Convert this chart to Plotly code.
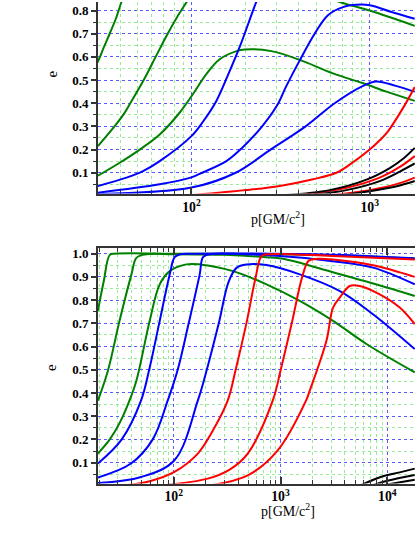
import plotly.graph_objects as go

# ---- top panel (p roughly 30 .. 1800) ----
top_green_1_p = [28.5, 30.3, 32.2, 34.8, 37.9, 40.5, 43.5]
top_green_1_e = [0.55, 0.59, 0.64, 0.70, 0.77, 0.837, 0.90]
top_green_2_p = [29.9, 37.9, 41.9, 45.4, 54.0, 63.0, 73.6, 87.6, 100, 140, 250, 450, 679, 1000, 1789]
top_green_2_e = [0.215, 0.31, 0.355, 0.40, 0.50, 0.60, 0.70, 0.80, 0.86, 0.92, 0.93, 0.89, 0.837, 0.80, 0.734]
top_green_3_p = [29.9, 39.6, 51.3, 66.4, 86.0, 102, 121, 144, 179, 199, 281, 405, 622, 918, 1242, 1789]
top_green_3_e = [0.087, 0.143, 0.20, 0.265, 0.36, 0.44, 0.525, 0.59, 0.625, 0.632, 0.625, 0.587, 0.529, 0.486, 0.45, 0.41]

top_blue_1_p = [29.9, 43.2, 53.5, 66.4, 100, 116, 138, 160, 187, 231, 260]
top_blue_1_e = [0.043, 0.079, 0.107, 0.15, 0.258, 0.32, 0.41, 0.52, 0.645, 0.837, 0.93]
top_blue_2_p = [29.9, 66.4, 100, 111, 157, 191, 246, 302, 341, 405, 491, 583, 708, 842, 1000, 1324, 1789]
top_blue_2_e = [0.014, 0.05, 0.08, 0.095, 0.15, 0.205, 0.295, 0.39, 0.475, 0.585, 0.70, 0.78, 0.815, 0.825, 0.823, 0.794, 0.765]
top_blue_3_p = [29.9, 100, 177, 278, 437, 636, 918, 1090, 1400, 1789]
top_blue_3_e = [0.008, 0.036, 0.10, 0.20, 0.30, 0.40, 0.475, 0.494, 0.475, 0.45]

top_red_1_p = [100, 203, 313, 481, 650, 772, 1000, 1138, 1266, 1539, 1789]
top_red_1_e = [0.003, 0.025, 0.043, 0.072, 0.10, 0.135, 0.20, 0.24, 0.279, 0.38, 0.47]
top_red_2_p = [405, 740, 1138, 1475, 1789]
top_red_2_e = [0.003, 0.035, 0.079, 0.125, 0.172]
top_red_3_p = [596, 1000, 1475, 1789]
top_red_3_e = [0.003, 0.025, 0.055, 0.079]

top_black_1_p = [325, 596, 959, 1296, 1539, 1789]
top_black_1_e = [0.003, 0.025, 0.07, 0.12, 0.16, 0.207]
top_black_2_p = [461, 740, 1138, 1475, 1789]
top_black_2_e = [0.003, 0.025, 0.064, 0.105, 0.14]
top_black_3_p = [679, 1000, 1475, 1789]
top_black_3_e = [0.003, 0.02, 0.045, 0.064]

# ---- bottom panel (p roughly 20 .. 18000) ----
bot_green_1_p = [19.5, 22.1, 25.2, 28.0, 100, 1000, 5000, 18050]
bot_green_1_e = [0.754, 0.88, 0.995, 1.0, 1.0, 0.998, 0.99, 0.978]
bot_green_2_p = [19.5, 24.2, 31.1, 40.2, 44.7, 53.5, 100, 300, 738, 1055, 3101, 6371, 18050]
bot_green_2_e = [0.367, 0.496, 0.711, 0.911, 0.982, 0.997, 0.998, 0.995, 0.985, 0.978, 0.92, 0.88, 0.818]
bot_green_3_p = [19.5, 25.2, 31.1, 38.5, 44.7, 59.6, 73.9, 91.7, 131, 175, 359, 738, 1513, 3101, 6371, 18050]
bot_green_3_e = [0.139, 0.20, 0.27, 0.367, 0.453, 0.711, 0.868, 0.925, 0.954, 0.954, 0.925, 0.868, 0.797, 0.711, 0.611, 0.489]

bot_blue_1_p = [19.5, 32.6, 49.4, 58.9, 73.1, 91.7, 102, 115, 150, 3000, 18050]
bot_blue_1_e = [0.096, 0.2, 0.367, 0.5, 0.7, 0.91, 0.985, 0.998, 1.0, 0.995, 0.98]
bot_blue_2_p = [19.5, 39.8, 63.6, 87.8, 109, 138, 175, 188, 217, 983, 3101, 7343, 18050]
bot_blue_2_e = [0.036, 0.096, 0.2, 0.367, 0.5, 0.7, 0.91, 0.985, 0.998, 0.99, 0.968, 0.94, 0.868]
bot_blue_3_p = [19.5, 49.4, 101.5, 168, 204, 264, 327, 389, 482, 738, 1513, 3596, 7343, 18050]
bot_blue_3_e = [0.012, 0.038, 0.11, 0.367, 0.5, 0.7, 0.88, 0.94, 0.954, 0.951, 0.911, 0.839, 0.739, 0.589]

bot_red_1_p = [35.7, 59.6, 101.5, 168, 227, 320, 380, 479, 586, 666, 792, 3101, 18050]
bot_red_1_e = [0.003, 0.02, 0.06, 0.139, 0.23, 0.367, 0.5, 0.7, 0.9, 0.99, 0.998, 0.99, 0.975]
bot_red_2_p = [81.8, 208, 334, 493, 845, 1004, 1273, 1596, 1836, 2230, 3101, 7343, 18050]
bot_red_2_e = [0.003, 0.031, 0.07, 0.139, 0.367, 0.5, 0.7, 0.9, 0.97, 0.978, 0.975, 0.95, 0.9]
bot_red_3_p = [208, 493, 941, 1732, 1877, 2691, 3101, 3582, 4445, 5512, 8484, 13060, 18050]
bot_red_3_e = [0.0, 0.045, 0.153, 0.367, 0.41, 0.625, 0.768, 0.811, 0.861, 0.861, 0.825, 0.768, 0.697]

bot_black_1_p = [5500, 8300, 13060, 18050]
bot_black_1_e = [0.0, 0.035, 0.058, 0.074]
bot_black_2_p = [7000, 10000, 18050]
bot_black_2_e = [0.0, 0.022, 0.047]
bot_black_3_p = [8500, 12000, 18050]
bot_black_3_e = [0.0, 0.012, 0.026]

GREEN, BLUE, RED, BLACK = "#008000", "#0000ff", "#ff0000", "#000000"
FONT = "Liberation Serif, Times New Roman, serif"

top_curves = [
    (top_green_1_p, top_green_1_e, GREEN), (top_green_2_p, top_green_2_e, GREEN),
    (top_green_3_p, top_green_3_e, GREEN), (top_blue_1_p, top_blue_1_e, BLUE),
    (top_blue_2_p, top_blue_2_e, BLUE), (top_blue_3_p, top_blue_3_e, BLUE),
    (top_red_1_p, top_red_1_e, RED), (top_red_2_p, top_red_2_e, RED),
    (top_red_3_p, top_red_3_e, RED), (top_black_1_p, top_black_1_e, BLACK),
    (top_black_2_p, top_black_2_e, BLACK), (top_black_3_p, top_black_3_e, BLACK),
]
bot_curves = [
    (bot_green_1_p, bot_green_1_e, GREEN), (bot_green_2_p, bot_green_2_e, GREEN),
    (bot_green_3_p, bot_green_3_e, GREEN), (bot_blue_1_p, bot_blue_1_e, BLUE),
    (bot_blue_2_p, bot_blue_2_e, BLUE), (bot_blue_3_p, bot_blue_3_e, BLUE),
    (bot_red_1_p, bot_red_1_e, RED), (bot_red_2_p, bot_red_2_e, RED),
    (bot_red_3_p, bot_red_3_e, RED), (bot_black_1_p, bot_black_1_e, BLACK),
    (bot_black_2_p, bot_black_2_e, BLACK), (bot_black_3_p, bot_black_3_e, BLACK),
]

fig = go.Figure()
for axes, curves in [(("x", "y"), top_curves), (("x2", "y2"), bot_curves)]:
    for p, e, color in curves:
        fig.add_trace(
            go.Scatter(
                x=p, y=e, mode="lines", xaxis=axes[0], yaxis=axes[1],
                line=dict(color=color, width=2, shape="spline", smoothing=1.0),
                hoverinfo="skip",
            )
        )

AXIS_COLOR = "#333333"
MAJOR_GRID = "rgb(90,90,255)"
MINOR_GRID = "rgb(150,235,150)"


def x_style(rng, anchor, mirror):
    return dict(
        type="log", range=rng, anchor=anchor, domain=[0, 1],
        showline=True, linecolor=AXIS_COLOR, linewidth=2, mirror=mirror,
        ticks="inside", ticklen=7, tickwidth=1.5, tickcolor=AXIS_COLOR,
        dtick=1, exponentformat="power",
        tickfont=dict(family=FONT, size=11, color="black", weight="bold"),
        ticklabelstandoff=0,
        showgrid=True, gridcolor=MAJOR_GRID, griddash="dot", gridwidth=1,
        minor=dict(dtick="D1", ticks="inside", ticklen=4, tickwidth=1,
                   tickcolor=AXIS_COLOR, showgrid=True, gridcolor=MINOR_GRID,
                   griddash="dot", gridwidth=1),
        zeroline=False,
    )


def y_style(rng, domain, anchor):
    return dict(
        range=rng, domain=domain, anchor=anchor,
        showline=True, linecolor=AXIS_COLOR, linewidth=2,
        ticks="outside", ticklen=5, tickwidth=1.5, tickcolor=AXIS_COLOR,
        tick0=0, dtick=0.1, tickformat=".1f",
        tickfont=dict(family=FONT, size=13, color="black", weight="bold"),
        showgrid=True, gridcolor=MAJOR_GRID, griddash="dot", gridwidth=1,
        minor=dict(dtick=0.05, ticks="outside", ticklen=3, tickwidth=1,
                   tickcolor=AXIS_COLOR, showgrid=True, gridcolor=MINOR_GRID,
                   griddash="dot", gridwidth=1),
        zeroline=False,
    )


fig.update_layout(
    width=415, height=537,
    margin=dict(l=98, r=0, t=0, b=0),
    showlegend=False,
    plot_bgcolor="white", paper_bgcolor="white",
    xaxis=x_style([1.476, 3.254], "y", False),
    yaxis=y_style([0.01, 0.837], [0.6419, 1.0], "x"),
    xaxis2=x_style([1.291, 4.259], "y2", "ticks"),
    yaxis2=y_style([0.01, 1.023], [0.1, 0.5395], "x2"),
)

labels = [
    ("e", -0.146, 0.866, -90, 15),
    ("e", -0.146, 0.317, -90, 15),
    ("p[GM/c<sup>2</sup>]", 0.568, 0.5965, 0, 14),
    ("p[GM/c<sup>2</sup>]", 0.599, 0.0503, 0, 14),
]
for text, x, y, angle, size in labels:
    fig.add_annotation(
        text=text, x=x, y=y, xref="paper", yref="paper",
        xanchor="center", yanchor="middle",
        textangle=angle, showarrow=False,
        font=dict(family=FONT, size=size, color="black"),
    )

fig.write_html(
    "out.html",
    config={"displayModeBar": False},
    post_script="document.body.style.margin = '0';",
)
